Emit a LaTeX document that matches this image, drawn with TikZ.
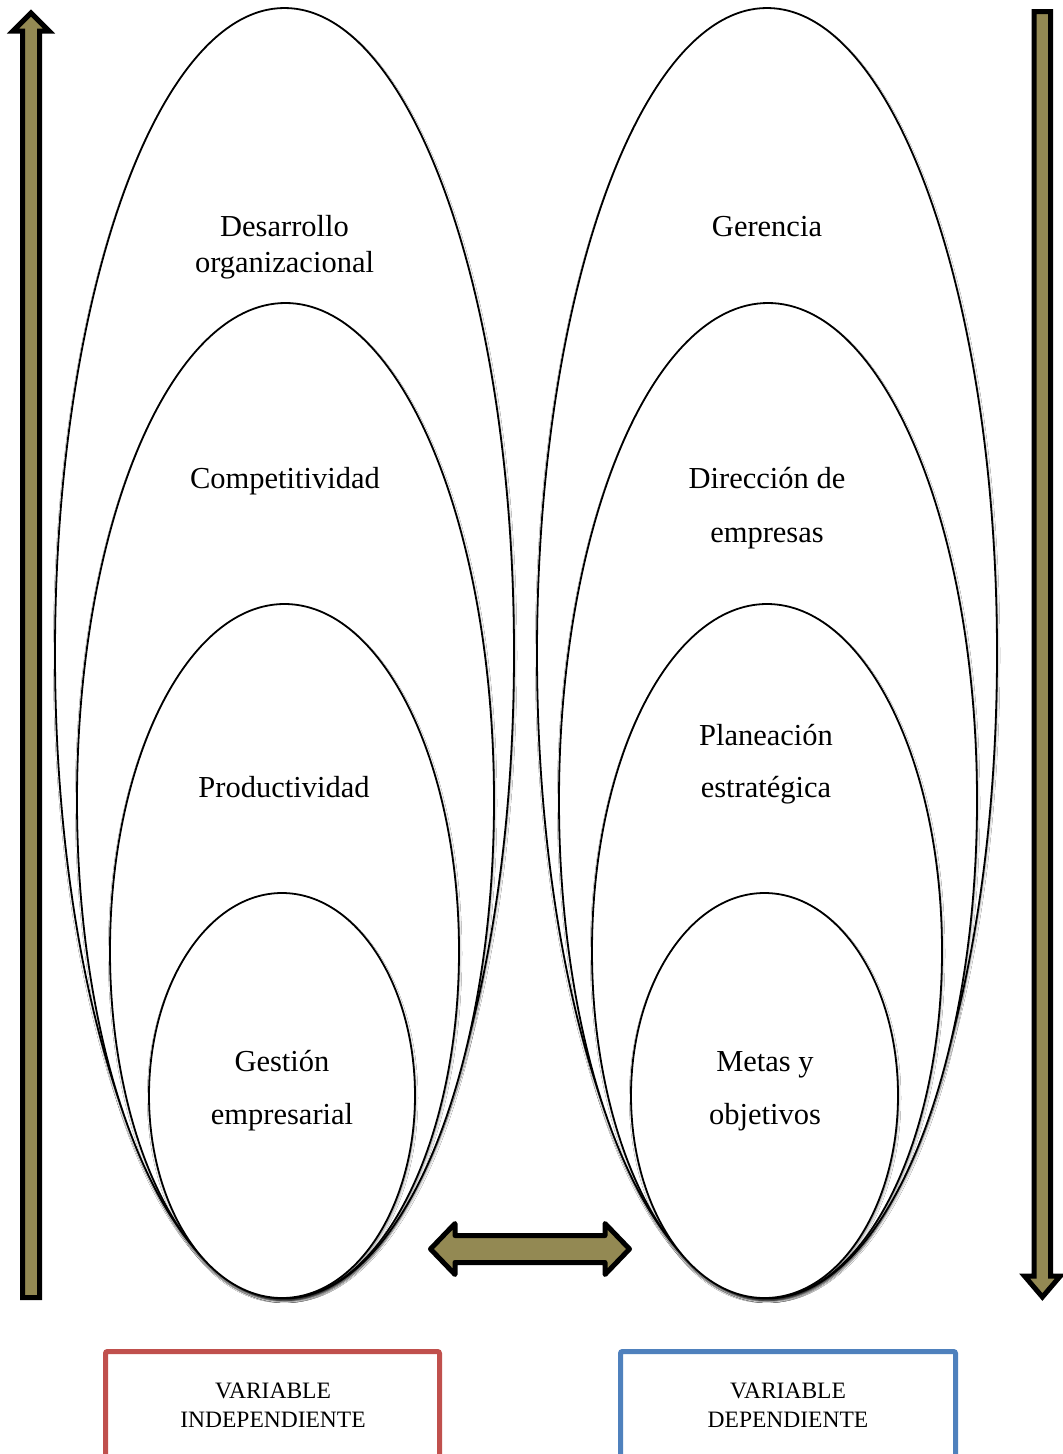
\documentclass[tikz,border=0pt]{standalone}
\usepackage{fontspec}
\setmainfont{Liberation Serif}
\usetikzlibrary{shapes.geometric,shadows.blur}
\definecolor{olive}{RGB}{147,137,83}
\definecolor{boxred}{RGB}{192,80,77}
\definecolor{boxblue}{RGB}{79,129,189}
\tikzset{
  oval/.style={ellipse, draw=black, line width=1.8pt, fill=white, inner sep=0pt,
    blur shadow={shadow xshift=0.6pt, shadow yshift=-2.5pt, shadow blur radius=2.4pt, shadow opacity=50}},
  lbl/.style={anchor=base, inner sep=0pt, font=\fontsize{30.5}{36}\selectfont},
  bigarrow/.style={draw=black, fill=olive, line width=5pt},
  varbox/.style={rectangle, line width=5pt, fill=white, rounded corners=2pt, inner sep=0pt},
  vartext/.style={anchor=base, inner sep=0pt, font=\fontsize{23.5}{28}\selectfont}
}
\begin{document}
\begin{tikzpicture}[x=1pt,y=-1pt]
\useasboundingbox (0,0) rectangle (1063,1454);
\clip (0,0) rectangle (1063,1454);
\fill[white] (0,0) rectangle (1063,1454);

% independent variable: nested ovals
\node[oval, minimum width=459pt, minimum height=1290pt] (l1) at (284.5,653) {};
\node[oval, minimum width=417pt, minimum height=995pt] (l2) at (285.5,800.5) {};
\node[oval, minimum width=349pt, minimum height=694pt] (l3) at (284.5,951) {};
\node[oval, minimum width=266pt, minimum height=405pt] (l4) at (282,1095.5) {};

% dependent variable: nested ovals
\node[oval, minimum width=460pt, minimum height=1290pt] (r1) at (767,653) {};
\node[oval, minimum width=418pt, minimum height=995pt] (r2) at (768,800.5) {};
\node[oval, minimum width=350pt, minimum height=694pt] (r3) at (767,951) {};
\node[oval, minimum width=267pt, minimum height=405pt] (r4) at (764.5,1095.5) {};

% labels inside the ovals
\node[lbl] (l1a) at (284.5,236) {Desarrollo};
\node[lbl] (l1b) at (284.5,272) {organizacional};
\node[lbl] (l2a) at (285,488) {Competitividad};
\node[lbl] (l3a) at (284,797) {Productividad};
\node[lbl] (l4a) at (282,1071) {Gestión};
\node[lbl] (l4b) at (282,1124) {empresarial};

\node[lbl] (r1a) at (767,236) {Gerencia};
\node[lbl] (r2a) at (767,488) {Dirección de};
\node[lbl] (r2b) at (767,542) {empresas};
\node[lbl] (r3a) at (766,745) {Planeación};
\node[lbl] (r3b) at (766,797) {estratégica};
\node[lbl] (r4a) at (765,1071) {Metas y};
\node[lbl] (r4b) at (765,1124) {objetivos};

% upward arrow on the left
\coordinate (upTip) at (31,13);
\draw[bigarrow, line join=miter] (22.5,1297.5) -- (22.5,31) -- (13,31) -- (upTip)
  -- (49,31) -- (39.5,31) -- (39.5,1297.5) -- cycle;

% downward arrow on the right
\coordinate (downTip) at (1042.4,1297);
\draw[bigarrow, line join=miter] (1034.2,11.5) -- (1034.2,1276) -- (1024.5,1276) -- (downTip)
  -- (1060.3,1276) -- (1050.5,1276) -- (1050.5,11.5) -- cycle;

% double arrow between the two groups
\coordinate (dLeft) at (430.5,1249);
\coordinate (dRight) at (629.5,1249);
\draw[bigarrow, line join=round] (dLeft) -- (455,1223.5) -- (455,1235.5) -- (605,1235.5)
  -- (605,1223.5) -- (dRight) -- (605,1274.5) -- (605,1262.5) -- (455,1262.5)
  -- (455,1274.5) -- cycle;

% variable boxes
\node[varbox, draw=boxred, minimum width=334pt, minimum height=120pt] (vind) at (272.5,1411.5) {};
\node[vartext] (vind1) at (273,1398) {VARIABLE};
\node[vartext] (vind2) at (273,1427) {INDEPENDIENTE};

\node[varbox, draw=boxblue, minimum width=335pt, minimum height=120pt] (vdep) at (788,1411.5) {};
\node[vartext] (vdep1) at (788,1398) {VARIABLE};
\node[vartext] (vdep2) at (788,1427) {DEPENDIENTE};
\end{tikzpicture}
\end{document}
